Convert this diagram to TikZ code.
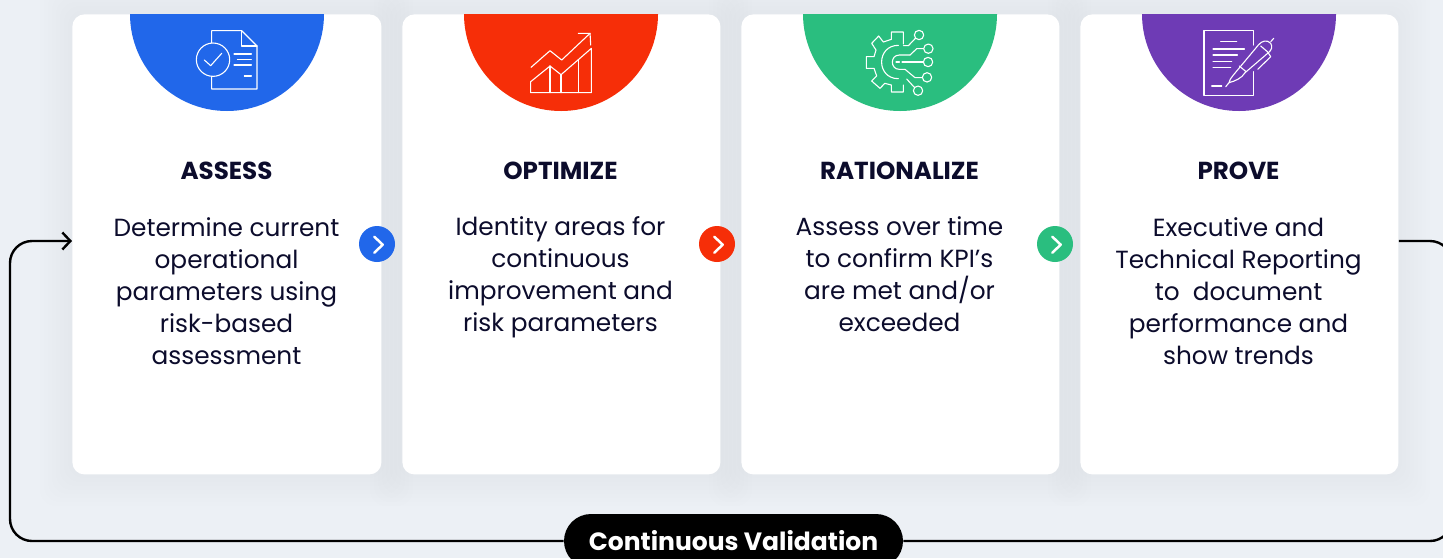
\documentclass[tikz,border=0pt]{standalone}
\usepackage{fontspec}
\setmainfont{Poppins}
\usetikzlibrary{arrows.meta}
\definecolor{pagebg}{HTML}{ECF0F5}
\definecolor{inkblue}{HTML}{0C0C2C}
\definecolor{cblue}{HTML}{2167EA}
\definecolor{cred}{HTML}{F62E08}
\definecolor{cgreen}{HTML}{2ABE7F}
\definecolor{cpurple}{HTML}{6E3BB5}
\tikzset{
  x=0.5pt,y=-0.5pt,
  cardbox/.style={fill=white,rounded corners=6pt,inner sep=0pt,minimum height=230pt,anchor=north west},
  headtext/.style={font=\fontsize{12.3}{16}\selectfont\bfseries,text=inkblue,inner sep=0pt,anchor=center},
  bodytext/.style={font=\fontsize{12.4}{16}\selectfont,text=inkblue,inner sep=0pt,align=center,anchor=north},
  nextdot/.style={circle,minimum size=18pt,inner sep=0pt},
  chev/.style={draw=white,line width=1.25pt,line cap=round,line join=round},
  icon/.style={draw=white,line width=0.55pt,line cap=round,line join=round},
  loopline/.style={draw=black,line width=1.2pt,rounded corners=11pt},
  pill/.style={fill=black,rounded corners=13.5pt,minimum width=169.5pt,minimum height=27pt,inner sep=0pt,text=white,font=\fontsize{12.5}{15}\selectfont\bfseries}
}
\begin{document}
\begin{tikzpicture}
\useasboundingbox (0,0) rectangle (1443,558);
\clip (0,0) rectangle (1443,558);
\fill[pagebg] (0,0) rectangle (1443,558);
% soft shadows
\foreach \l/\r in {72/381,402/720,741/1059,1080/1398}{
  \foreach \e in {32,28,24,20,16,12,8,4}{
    \fill[black,opacity=0.005,rounded corners=8pt] (\l-\e,14-\e) rectangle (\r+\e,474+\e);
  }
}
% cards
\node[cardbox,minimum width=154.5pt] (card1) at (72,14) {};
\node[cardbox,minimum width=159pt] (card2) at (402,14) {};
\node[cardbox,minimum width=159pt] (card3) at (741,14) {};
\node[cardbox,minimum width=159pt] (card4) at (1080,14) {};
% half discs
\fill[cblue] (130,14) arc[start angle=180,end angle=0,radius=97] -- cycle;
\fill[cred] (464,14) arc[start angle=180,end angle=0,radius=97] -- cycle;
\fill[cgreen] (803,14) arc[start angle=180,end angle=0,radius=97] -- cycle;
\fill[cpurple] (1142,14) arc[start angle=180,end angle=0,radius=97] -- cycle;
% icon 1
\begin{scope}[shift={(120,0)},x=0.1667pt,y=-0.1667pt]
\draw[icon] (275,128) -- (275,92) -- (365,92) -- (411,138) -- (411,267) -- (275,267) -- (275,230);
\draw[icon] (365,92) -- (365,138) -- (411,138);
\draw[icon] (279,179) circle[radius=50];
\draw[icon] (253,180) -- (272,197) -- (305,160);
\draw[icon] (342,162) -- (394,162) (352,178) -- (394,178) (342,195) -- (394,195) (373,228) -- (394,228);
\end{scope}
% icon 2
\begin{scope}[shift={(460,0)},x=0.1667pt,y=-0.1667pt]
\draw[icon] (213,202) -- (270,152) -- (305,180) -- (390,100);
\draw[icon] (355,100) -- (390,100) -- (392,135);
\draw[icon] (212,245) -- (270,198) -- (303,224) -- (394,145) -- (394,278) -- (212,278) -- cycle;
\draw[icon] (270,198) -- (270,278) (303,224) -- (303,278) (355,180) -- (355,278);
\end{scope}
% icon 3
\begin{scope}[shift={(800,0)},x=0.1667pt,y=-0.1667pt]
\draw[icon] (310,132) -- (310,96) -- (274,96) -- (274,118) -- (250,126) -- (236,108) -- (215,130) -- (228,150) -- (222,170) -- (199,170) -- (199,205) -- (222,205) -- (230,228) -- (215,243) -- (240,265) -- (254,250) -- (274,255) -- (274,276) -- (310,276) -- (310,255);
\draw[icon] (295,136) .. controls (228,136) and (228,236) .. (295,236);
\draw[icon] (330,165) -- (298,165) .. controls (270,165) and (270,208) .. (298,208) -- (315,208);
\draw[icon] (330,165) -- (350,146) -- (370,146);
\draw[icon] (315,208) -- (345,233) -- (367,233);
\draw[icon] (288,186) -- (298,186) (306,186) -- (370,186);
\draw[icon] (310,137) -- (325,137) -- (346,115);
\draw[icon] (320,237) -- (343,262);
\draw[icon] (357,105) circle[radius=14] (385,146) circle[radius=14] (384,186) circle[radius=14] (381,232) circle[radius=14] (354,272) circle[radius=14];
\end{scope}
% icon 4
\begin{scope}[shift={(1130,0)},x=0.1667pt,y=-0.1667pt]
\draw[icon] (370,135) -- (370,92) -- (222,92) -- (222,286) -- (370,286) -- (370,215);
\draw[icon] (272,125) -- (320,125) (249,147) -- (343,147) (249,165) -- (322,165) (249,184) -- (305,184) (249,203) -- (302,203) (245,258) -- (275,258);
\draw[icon] (297,248) .. controls (297,240) and (303,235) .. (310,225) -- (385,135) .. controls (395,122) and (412,118) .. (422,130) .. controls (428,140) and (425,150) .. (415,158) -- (345,218) .. controls (335,235) and (315,243) .. (297,248) -- cycle;
\draw[icon] (297,248) -- (287,260) (422,125) -- (431,115);
\draw[icon] (328,198) -- (348,215) (392,138) -- (412,155);
\draw[icon] (412,155) -- (422,170) -- (383,208);
\end{scope}
% headings
\node[headtext] (h1) at (226.5,171) {ASSESS};
\node[headtext] (h2) at (560.5,171) {OPTIMIZE};
\node[headtext] (h3) at (899.5,171) {RATIONALIZE};
\node[headtext] (h4) at (1238.5,171) {PROVE};
% body
\node[bodytext] (b1) at (226.5,217.5) {Determine current\\operational\\parameters using\\risk-based\\assessment};
\node[bodytext] (b2) at (560.5,216.5) {Identity areas for\\continuous\\improvement and\\risk parameters};
\node[bodytext] (b3) at (899.5,216.5) {Assess over time\\to confirm KPI’s\\are met and/or\\exceeded};
\node[bodytext] (b4) at (1238.5,217) {Executive and\\Technical Reporting\\to\ \ document\\performance and\\show trends};
% next dots
\node[nextdot,fill=cblue] (d1) at (377,244) {};
\node[nextdot,fill=cred] (d2) at (717,244) {};
\node[nextdot,fill=cgreen] (d3) at (1055,244) {};
\draw[chev] (374.3,236.7) -- (382.7,244.7) -- (374.3,252.7);
\draw[chev] (714.3,236.7) -- (722.7,244.7) -- (714.3,252.7);
\draw[chev] (1052.3,236.7) -- (1060.7,244.7) -- (1052.3,252.7);
% loop
\node[pill] (val) at (733.5,541) {\raisebox{-0.5pt}{Continuous Validation}};
\coordinate (ne) at (1452,241);
\coordinate (se) at (1452,541);
\coordinate (sw) at (10,541);
\coordinate (nw) at (10,241);
\draw[loopline] (card4.north east |- ne) -- (ne) -- (se) -- (val.east);
\draw[loopline,-{Straight Barb[length=4pt,width=8.5pt,line width=1.2pt]}] (val.west) -- (sw) -- (nw) -- (card1.north west |- nw);
\end{tikzpicture}
\end{document}
